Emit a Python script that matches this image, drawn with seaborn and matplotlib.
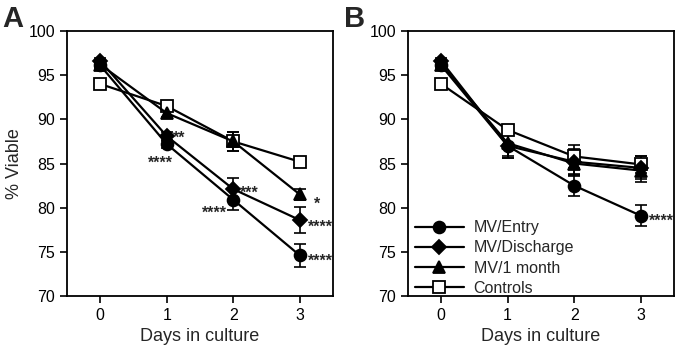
import pandas as pd
import matplotlib
matplotlib.use("Agg")
import matplotlib.pyplot as plt
import seaborn as sns

# ---------------- data ----------------
DAYS = [0, 1, 2, 3]
GROUPS = ["MV/Entry", "MV/Discharge", "MV/1 month", "Controls"]

A_ENTRY     = [96.1, 87.2, 80.9, 74.6]
A_DISCHARGE = [96.6, 88.1, 82.1, 78.6]
A_ONEMONTH  = [96.2, 90.7, 87.5, 81.5]
A_CONTROLS  = [94.0, 91.5, 87.5, 85.2]
A_ENTRY_ERR     = [0.3, 0.5, 1.2, 1.3]
A_DISCHARGE_ERR = [0.3, 0.5, 1.3, 1.5]
A_ONEMONTH_ERR  = [0.3, 0.4, 1.1, 0.6]
A_CONTROLS_ERR  = [0.3, 0.4, 1.1, 0.5]

B_ENTRY     = [96.1, 87.0, 82.5, 79.1]
B_DISCHARGE = [96.6, 87.0, 85.2, 84.5]
B_ONEMONTH  = [96.2, 87.3, 85.0, 84.2]
B_CONTROLS  = [94.0, 88.8, 85.8, 84.9]
B_ENTRY_ERR     = [0.3, 1.4, 1.2, 1.2]
B_DISCHARGE_ERR = [0.3, 1.4, 1.4, 1.3]
B_ONEMONTH_ERR  = [0.3, 1.4, 1.4, 1.3]
B_CONTROLS_ERR  = [0.3, 0.5, 1.3, 1.0]

# significance stars: (x, y, text, ha)
A_STARS = [(1.1, 88.5, "**", "left"), (0.9, 85.6, "****", "center"),
           (2.1, 82.2, "***", "left"), (1.9, 80.0, "****", "right"),
           (3.22, 81.0, "*", "left"), (3.12, 78.4, "****", "left"),
           (3.12, 74.5, "****", "left")]
B_STARS = [(3.12, 79.1, "****", "left")]

# ---------------- style ----------------
MARKERS = {"MV/Entry": "o", "MV/Discharge": "D", "MV/1 month": "^", "Controls": "s"}
MSIZE = {"MV/Entry": 8.5, "MV/Discharge": 7, "MV/1 month": 8.5, "Controls": 8}
LW = 1.6
STAR_FS = 11.5

sns.set_theme(style="ticks")
plt.rcParams["font.family"] = ["Liberation Sans", "DejaVu Sans"]


def long_frame(vals, errs):
    rows = []
    for g, v, e in zip(GROUPS, vals, errs):
        for d, y, err in zip(DAYS, v, e):
            rows.append({"day": d, "viable": y, "err": err, "group": g})
    return pd.DataFrame(rows)


def draw(ax, df, stars):
    for g in GROUPS[::-1]:
        sub = df[df.group == g]
        ax.errorbar(sub.day, sub.viable, yerr=sub.err, fmt="none", ecolor="black",
                    elinewidth=1.2, capsize=4, capthick=1.2, zorder=1)
        sns.lineplot(data=sub, x="day", y="viable", ax=ax, color="black", lw=LW,
                     marker=MARKERS[g], markersize=MSIZE[g],
                     markerfacecolor="white" if g == "Controls" else "black",
                     markeredgecolor="black", markeredgewidth=1.3,
                     label=g, legend=False, zorder=3)
    # asterisk glyph sits high in the line: shift baseline down
    for x, y, t, ha in stars:
        ax.text(x, y - 1.1, t, ha=ha, va="baseline", fontsize=STAR_FS, fontweight="bold")
    ax.set_xlim(-0.5, 3.5)
    ax.set_ylim(70, 100)
    ax.set_xticks(DAYS)
    ax.set_yticks(range(70, 101, 5))
    ax.set_xlabel("Days in culture", fontsize=13)
    ax.set_ylabel("")
    ax.tick_params(labelsize=11.5, length=5, width=1.2, colors="black")
    for s in ax.spines.values():
        s.set_linewidth(1.3)
        s.set_color("black")


fig = plt.figure(figsize=(6.81, 3.52), dpi=100)
axA = fig.add_axes([0.0984, 0.159, 0.3906, 0.753])
axB = fig.add_axes([0.599, 0.159, 0.3906, 0.753])

dfA = long_frame([A_ENTRY, A_DISCHARGE, A_ONEMONTH, A_CONTROLS],
                 [A_ENTRY_ERR, A_DISCHARGE_ERR, A_ONEMONTH_ERR, A_CONTROLS_ERR])
dfB = long_frame([B_ENTRY, B_DISCHARGE, B_ONEMONTH, B_CONTROLS],
                 [B_ENTRY_ERR, B_DISCHARGE_ERR, B_ONEMONTH_ERR, B_CONTROLS_ERR])
draw(axA, dfA, A_STARS)
draw(axB, dfB, B_STARS)
axA.set_ylabel("% Viable", fontsize=13)

handles, labels = axB.get_legend_handles_labels()
order = [labels.index(g) for g in GROUPS]
axB.legend([handles[i] for i in order], GROUPS, loc="lower left",
           bbox_to_anchor=(0.025, 0.0), frameon=False,
           fontsize=11.5, handlelength=3.1, handletextpad=0.6, labelspacing=0.33,
           borderaxespad=0.0, borderpad=0.0)

fig.text(0.004, 0.985, "A", fontsize=21, fontweight="bold", va="top", ha="left")
fig.text(0.505, 0.985, "B", fontsize=21, fontweight="bold", va="top", ha="left")

fig.savefig("out.png", dpi=100)
